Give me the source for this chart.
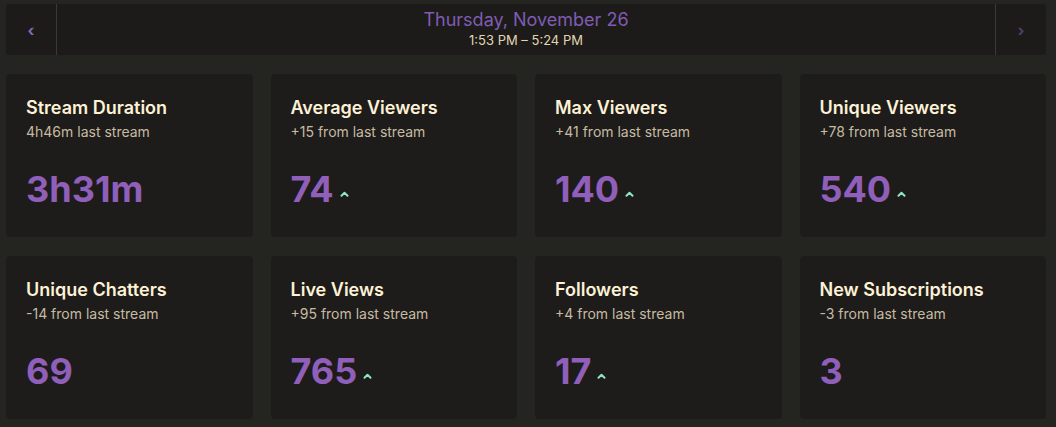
import React from "react";

const dateLabel = "Thursday, November 26";
const timeRange = "1:53 PM – 5:24 PM";

const cardTitles = [
  "Stream Duration",
  "Average Viewers",
  "Max Viewers",
  "Unique Viewers",
  "Unique Chatters",
  "Live Views",
  "Followers",
  "New Subscriptions",
];
const cardSubtitles = [
  "4h46m last stream",
  "+15 from last stream",
  "+41 from last stream",
  "+78 from last stream",
  "-14 from last stream",
  "+95 from last stream",
  "+4 from last stream",
  "-3 from last stream",
];
const cardValues = ["3h31m", "74", "140", "540", "69", "765", "17", "3"];
const cardTrendUp = [false, true, true, true, false, true, true, false];

const FONT = "Inter, 'Noto Sans', sans-serif";

function Chevron() {
  return (
    <svg width="9" height="6" viewBox="0 0 9 6" style={{ marginLeft: 6, marginBottom: 14, display: "block" }}>
      <polyline points="1.5,4.8 4.5,1.8 7.5,4.8" fill="none" stroke="#8fe3c4" strokeWidth="2" strokeLinecap="round" strokeLinejoin="round" />
    </svg>
  );
}

function Card({ i }: { i: number }) {
  return (
    <div
      style={{
        background: "#1d1c1a",
        borderRadius: 4,
        boxSizing: "border-box",
        padding: "24px 20px 0 20px",
        height: 163,
      }}
    >
      <div style={{ fontSize: 18, lineHeight: "20px", fontWeight: 600, color: "#fdf1d6", whiteSpace: "nowrap" }}>
        {cardTitles[i]}
      </div>
      <div style={{ fontSize: 14, lineHeight: "18px", marginTop: 5, color: "#c6bba2", whiteSpace: "nowrap" }}>
        {cardSubtitles[i]}
      </div>
      <div style={{ display: "flex", alignItems: "flex-end", marginTop: 26, height: 44 }}>
        <div style={{ fontSize: 36, lineHeight: "44px", fontWeight: 700, color: "#8f5fba" }}>{cardValues[i]}</div>
        {cardTrendUp[i] ? <Chevron /> : null}
      </div>
    </div>
  );
}

export default function App() {
  return (
    <div style={{ position: "relative", width: 1056, height: 427, background: "#242521", fontFamily: FONT, overflow: "hidden" }}>
      <style>{"html,body{margin:0;padding:0;background:#242521;}"}</style>
      <div
        style={{
          position: "absolute",
          left: 6,
          top: 4,
          width: 1040,
          height: 51,
          background: "#1c1b19",
          borderRadius: 3,
          display: "flex",
        }}
      >
        <div style={{ width: 50, borderRight: "1px solid #3a3935", display: "flex", alignItems: "center", justifyContent: "center", color: "#8a64bc", fontSize: 16, fontWeight: 700 }}>
          ‹
        </div>
        <div style={{ flex: 1, textAlign: "center" }}>
          <div style={{ fontSize: 18, lineHeight: "22px", marginTop: 5, color: "#7f5cb2" }}>{dateLabel}</div>
          <div style={{ fontSize: 13, lineHeight: "16px", marginTop: 1, color: "#e2d4b2" }}>{timeRange}</div>
        </div>
        <div style={{ width: 50, borderLeft: "1px solid #3a3935", display: "flex", alignItems: "center", justifyContent: "center", color: "#4f3f6a", fontSize: 16, fontWeight: 700 }}>
          ›
        </div>
      </div>
      <div
        style={{
          position: "absolute",
          left: 6,
          top: 74,
          width: 1040,
          display: "grid",
          gridTemplateColumns: "repeat(4, 1fr)",
          columnGap: 18,
          rowGap: 19,
        }}
      >
        {cardValues.map((_, i) => (
          <Card key={i} i={i} />
        ))}
      </div>
    </div>
  );
}
